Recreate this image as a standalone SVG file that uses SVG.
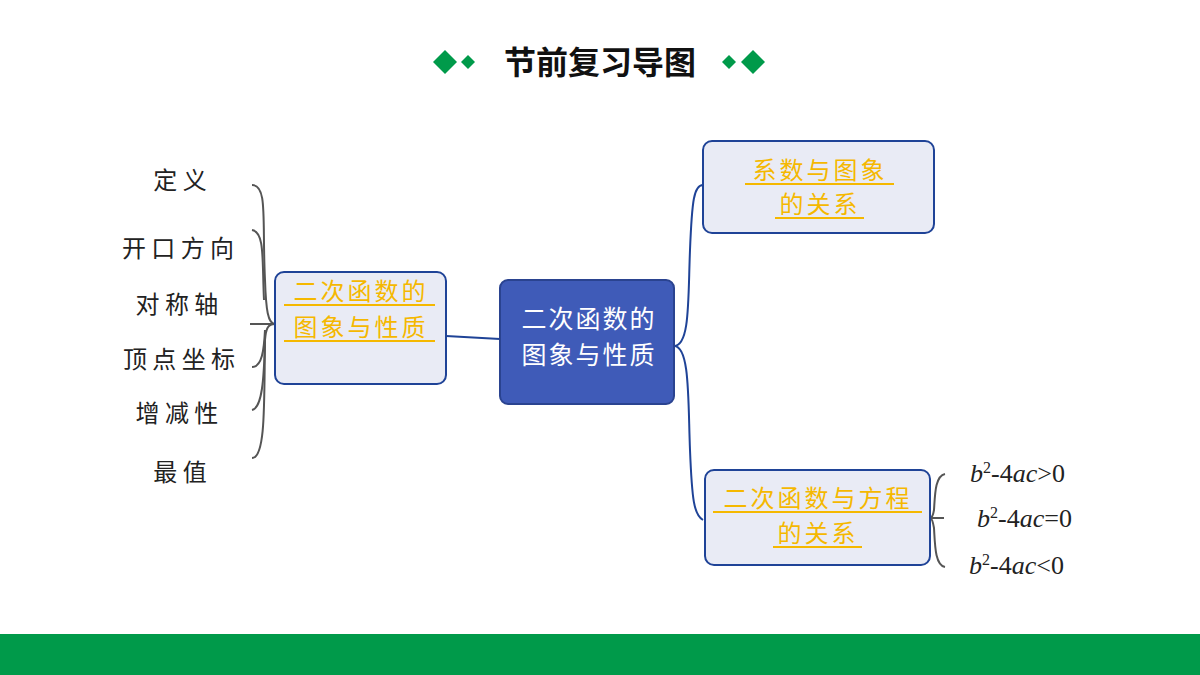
<svg xmlns="http://www.w3.org/2000/svg" width="1200" height="675" viewBox="0 0 1200 675">
<style>
.cn{font-family:"Noto Sans CJK SC",sans-serif;}
.lbl{font-family:"Noto Sans CJK SC",sans-serif;font-size:24px;fill:#222;text-anchor:middle;}
.gold{font-family:"Noto Sans CJK SC",sans-serif;font-size:24px;fill:#f5b800;text-anchor:middle;letter-spacing:3px;}
.ul{stroke:#f5b800;stroke-width:2;}
.box{fill:#e9ebf5;stroke:#1f4397;stroke-width:2;}
.br{fill:none;stroke:#555;stroke-width:2;}
.cn2{fill:none;stroke:#1f4397;stroke-width:2;}
.m{font-family:"Liberation Serif",serif;font-size:26px;fill:#222;}
</style>
<rect width="1200" height="675" fill="#fff"/>
<g id="title">
<polygon points="445,50 457,62 445,74 433,62" fill="#009a4a"/>
<polygon points="468,55 475,62 468,69 461,62" fill="#009a4a"/>
<polygon points="729,55 736,62 729,69 722,62" fill="#009a4a"/>
<polygon points="753,50 765,62 753,74 741,62" fill="#009a4a"/>
<text x="600" y="74" class="cn" font-size="32" font-weight="bold" text-anchor="middle" fill="#111">节前复习导图</text>
</g>
<g id="connectors">
<path class="br" d="M252,185 C268,185 262,220 265,280 C266,310 268,324 275,324"/>
<path class="br" d="M252,230 C265,232 262,260 264,300"/>
<path class="br" d="M250,324 L275,324"/>
<path class="br" d="M252,367 C262,367 264,350 265,330"/>
<path class="br" d="M252,410 C262,408 264,380 265,340"/>
<path class="br" d="M252,458 C266,458 264,400 265,340 C266,328 268,324 275,324"/>
<path class="cn2" d="M446,336 L500,339"/>
<path class="cn2" d="M674,346 C690,346 688,300 690,250 C692,200 694,185 703,185"/>
<path class="cn2" d="M674,346 C690,346 688,400 690,450 C692,500 694,515 703,520"/>
<path class="br" d="M930,518 L944,518"/>
<path class="br" d="M945,474 C935,476 935,495 934,510 C933,516 932,518 930,518 C932,518 933,522 934,528 C935,545 935,565 945,567"/>
</g>
<g id="n-left-items">
<text class="lbl" x="180" y="189">定 义</text>
<text class="lbl" x="178" y="257">开 口 方 向</text>
<text class="lbl" x="177" y="313">对 称 轴</text>
<text class="lbl" x="179" y="368">顶 点 坐 标</text>
<text class="lbl" x="177" y="422">增 减 性</text>
<text class="lbl" x="180" y="481">最 值</text>
</g>
<g id="n-left">
<rect class="box" x="275" y="272" width="171" height="112" rx="9"/>
<text class="gold" x="361" y="300">二次函数的</text>
<line class="ul" x1="284" y1="305" x2="435" y2="305"/>
<text class="gold" x="361" y="336">图象与性质</text>
<line class="ul" x1="284" y1="341" x2="435" y2="341"/>
</g>
<g id="n-center">
<rect x="500" y="280" width="174" height="124" rx="8" fill="#3f5bb8" stroke="#2a4390" stroke-width="2"/>
<text class="cn" x="589" y="328" font-size="25" fill="#fff" text-anchor="middle" letter-spacing="2">二次函数的</text>
<text class="cn" x="589" y="364" font-size="25" fill="#fff" text-anchor="middle" letter-spacing="2">图象与性质</text>
</g>
<g id="n-top-right">
<rect class="box" x="703" y="141" width="231" height="92" rx="9"/>
<text class="gold" x="820" y="179">系数与图象</text>
<line class="ul" x1="745" y1="184" x2="894" y2="184"/>
<text class="gold" x="820" y="213">的关系</text>
<line class="ul" x1="775" y1="218" x2="864" y2="218"/>
</g>
<g id="n-bottom-right">
<rect class="box" x="705" y="470" width="225" height="95" rx="9"/>
<text class="gold" x="818" y="507">二次函数与方程</text>
<line class="ul" x1="713" y1="512" x2="922" y2="512"/>
<text class="gold" x="818" y="542">的关系</text>
<line class="ul" x1="773" y1="547" x2="862" y2="547"/>
</g>
<g id="n-conditions">
<text class="m" x="970" y="482"><tspan font-style="italic">b</tspan><tspan font-size="16" dy="-9">2</tspan><tspan dy="9">-4</tspan><tspan font-style="italic">ac</tspan>&gt;0</text>
<text class="m" x="977" y="527"><tspan font-style="italic">b</tspan><tspan font-size="16" dy="-9">2</tspan><tspan dy="9">-4</tspan><tspan font-style="italic">ac</tspan>=0</text>
<text class="m" x="969" y="574"><tspan font-style="italic">b</tspan><tspan font-size="16" dy="-9">2</tspan><tspan dy="9">-4</tspan><tspan font-style="italic">ac</tspan>&lt;0</text>
</g>
<rect x="0" y="634" width="1200" height="41" fill="#009a4a"/>
</svg>
